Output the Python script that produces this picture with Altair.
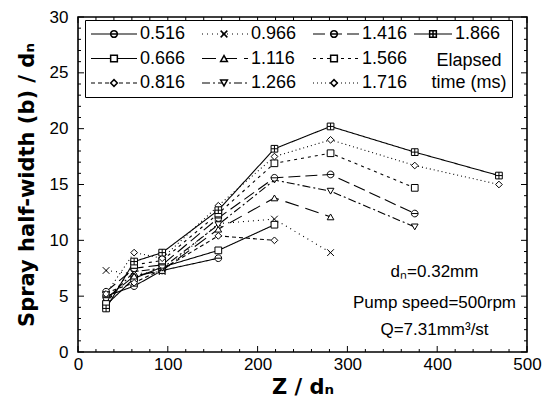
import altair as alt
import pandas as pd

# ---------------- data ----------------
times = ["0.516", "0.666", "0.816", "0.966", "1.116",
         "1.266", "1.416", "1.566", "1.716", "1.866"]
z_dn = [31.25, 62.5, 93.75, 156.25, 218.75, 281.25, 375.0, 468.75]

b_0516 = [5.0, 5.9, 7.3, 8.4]
b_0666 = [4.2, 6.6, 7.6, 9.1, 11.4]
b_0816 = [5.3, 6.2, 7.4, 10.4, 10.0]
b_0966 = [7.3, 7.0, 7.2, 11.5, 11.9, 8.9]
b_1116 = [4.8, 6.8, 7.3, 11.0, 13.8, 12.1]
b_1266 = [4.6, 7.2, 7.5, 11.4, 15.4, 14.4, 11.2]
b_1416 = [5.4, 7.5, 7.8, 12.0, 15.6, 15.9, 12.4]
b_1566 = [4.3, 7.8, 8.2, 12.4, 16.9, 17.8, 14.7]
b_1716 = [5.2, 8.9, 8.4, 13.1, 17.5, 19.0, 16.7, 15.0]
b_1866 = [3.9, 8.1, 8.9, 12.7, 18.2, 20.2, 17.9, 15.8]

all_b = [b_0516, b_0666, b_0816, b_0966, b_1116,
         b_1266, b_1416, b_1566, b_1716, b_1866]

ann_text = ["dₙ=0.32mm", "Pump speed=500rpm", "Q=7.31mm³/st"]
ann_x = [397, 397, 397]
ann_y = [7.15, 4.4, 1.95]

x_ticks = [0, 100, 200, 300, 400, 500]
x_minor = [20, 40, 60, 80, 120, 140, 160, 180, 220, 240, 260, 280,
           320, 340, 360, 380, 420, 440, 460, 480]
y_ticks = [0, 5, 10, 15, 20, 25, 30]
y_minor = [1, 2, 3, 4, 6, 7, 8, 9, 11, 12, 13, 14, 16, 17, 18, 19,
           21, 22, 23, 24, 26, 27, 28, 29]

# ---------------- styles ----------------
legend_order = times[:9]   # legend fills column by column
dash = {
    "0.516": [1, 0], "0.666": [1, 0], "0.816": [4, 3], "0.966": [1, 4],
    "1.116": [14, 7], "1.266": [8, 3, 2, 3], "1.416": [12, 5],
    "1.566": [3, 4], "1.716": [1, 3], "1.866": [1, 0],
}
circ_bar = "M-1,0A1,1,0,1,0,1,0A1,1,0,1,0,-1,0ZM-1,0L1,0"
xmark = "M-1,-1L1,1M-1,1L1,-1"
sq_cross = "M-1,-1L1,-1L1,1L-1,1ZM0,-1L0,1M-1,0L1,0"
shape = {
    "0.516": circ_bar, "0.666": "square", "0.816": "diamond",
    "0.966": xmark, "1.116": "triangle-up", "1.266": "triangle-down",
    "1.416": circ_bar, "1.566": "square", "1.716": "diamond",
    "1.866": sq_cross,
}

rows = []
for t, vals in zip(times, all_b):
    for zz, v in zip(z_dn, vals):
        rows.append({"time": t, "time_s": t, "z": zz, "b": v})
df = pd.DataFrame(rows)
dfA = df[df["time"] != "1.866"]
dfB = df[df["time"] == "1.866"]

ann = pd.DataFrame({"txt": ann_text, "z": ann_x, "b": ann_y})

FONT = "Liberation Sans"
LF = 18

xenc = alt.X("z:Q", scale=alt.Scale(domain=[0, 500], nice=False),
             axis=alt.Axis(values=x_ticks, title="Z / dₙ", labelFlush=False))
yenc = alt.Y("b:Q", scale=alt.Scale(domain=[0, 30], nice=False),
             axis=alt.Axis(values=y_ticks, title="Spray half-width (b) / dₙ"))

common_leg = dict(orient="none", labelFont=FONT, labelFontSize=LF,
                  labelColor="black", rowPadding=6.5,
                  columnPadding=15, labelLimit=0)

lineA = alt.Chart(dfA).mark_line(color="black", strokeWidth=1.1).encode(
    x=xenc, y=yenc,
    strokeDash=alt.StrokeDash(
        "time:N",
        scale=alt.Scale(domain=legend_order, range=[dash[t] for t in legend_order]),
        legend=alt.Legend(
            legendX=7, legendY=3, columns=3, padding=5, zindex=1, clipHeight=18,
            strokeColor="black", fillColor="white", cornerRadius=0,
            title=["Elapsed", "time (ms)"], titleOrient="right",
            titleAnchor="end", titleAlign="center", titleBaseline="bottom",
            titleFont=FONT, titleFontSize=LF, titleFontWeight="normal",
            titleColor="black", titlePadding=62, titleLineHeight=22,
            symbolType="stroke", symbolSize=2116, symbolStrokeWidth=1.2,
            symbolStrokeColor="black", labelOffset=2, **common_leg)),
)
pointA = alt.Chart(dfA).mark_point(filled=False, color="black", fill="white",
                                   strokeWidth=1, size=45, opacity=1).encode(
    x=xenc, y=yenc,
    shape=alt.Shape(
        "time_s:N",
        scale=alt.Scale(domain=legend_order, range=[shape[t] for t in legend_order]),
        legend=alt.Legend(
            legendX=22, legendY=3, columns=3, padding=5, title=None, zindex=2,
            symbolSize=45, labelOffset=77, labelExpr="''", **common_leg)),
)
lineB = alt.Chart(dfB).mark_line(color="black", strokeWidth=1.1).encode(
    x=xenc, y=yenc,
    strokeDash=alt.StrokeDash(
        "time:N", scale=alt.Scale(domain=["1.866"], range=[dash["1.866"]]),
        legend=alt.Legend(
            legendX=335, legendY=8, padding=0, title=None, zindex=1, clipHeight=18,
            symbolType="stroke", symbolSize=1444, symbolStrokeWidth=1.2,
            symbolStrokeColor="black", labelOffset=2, **common_leg)),
)
pointB = alt.Chart(dfB).mark_point(filled=False, color="black", fill="white",
                                   strokeWidth=1, size=45, opacity=1).encode(
    x=xenc, y=yenc,
    shape=alt.Shape(
        "time_s:N", scale=alt.Scale(domain=["1.866"], range=[shape["1.866"]]),
        legend=alt.Legend(
            legendX=346, legendY=8, padding=0, title=None, zindex=2,
            symbolSize=45, labelOffset=60, labelExpr="''", **common_leg)),
)

text = alt.Chart(ann).mark_text(font=FONT, fontSize=17, color="black",
                                align="center", baseline="middle").encode(
    x=alt.X("z:Q"), y=alt.Y("b:Q"), text="txt:N")

xt = pd.DataFrame({"v": x_ticks})
xm = pd.DataFrame({"v": x_minor})
yt = pd.DataFrame({"v": y_ticks})
ym = pd.DataFrame({"v": y_minor})

def xtick(d, at, off):
    return alt.Chart(d).mark_rule(color="black", strokeWidth=1, y2Offset=off).encode(
        x=alt.X("v:Q"), y=alt.datum(at), y2=alt.datum(at))

def ytick(d, at, off):
    return alt.Chart(d).mark_rule(color="black", strokeWidth=1, x2Offset=off).encode(
        y=alt.Y("v:Q"), x=alt.datum(at), x2=alt.datum(at))

ticks = [xtick(xt, 0, -6), xtick(xm, 0, -3), xtick(xt, 30, 6), xtick(xm, 30, 3),
         ytick(yt, 0, 6), ytick(ym, 0, 3), ytick(yt, 500, -6), ytick(ym, 500, -3)]

chart = alt.layer(
    *ticks, lineA, lineB, pointA, pointB, text
).resolve_scale(
    strokeDash="independent", shape="independent"
).properties(
    width=449, height=335,
    autosize=alt.AutoSizeParams(type="none"),
    padding={"left": 78, "top": 17, "right": 25, "bottom": 55},
    background="white",
).configure_view(
    stroke="black", strokeWidth=1.6
).configure_axis(
    grid=False, ticks=False, domain=False,
    labelFont=FONT, labelFontSize=17, labelColor="black",
    titleFont="DejaVu Sans", titleFontSize=21, titleFontWeight="bold",
    titleColor="black",
).configure_axisX(
    labelPadding=4, titlePadding=4
).configure_axisY(
    labelPadding=10, titlePadding=12
)

chart.save("out.html", embed_options={"renderer": "svg", "actions": False})
